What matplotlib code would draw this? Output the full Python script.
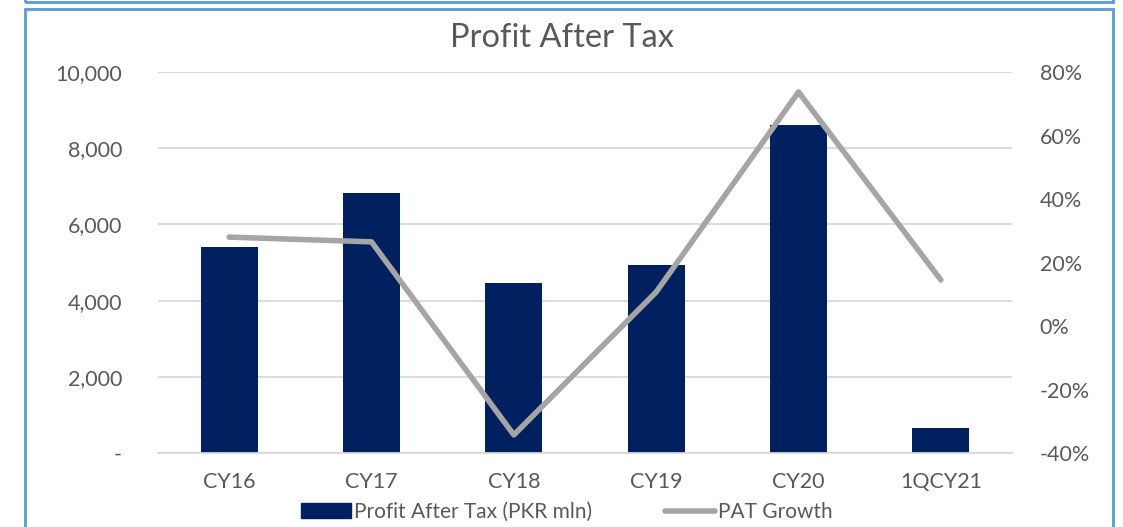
import matplotlib
matplotlib.use("Agg")
import matplotlib.pyplot as plt
from matplotlib.patches import Rectangle
from matplotlib.ticker import FuncFormatter, MultipleLocator
from matplotlib.lines import Line2D

plt.rcParams["font.family"] = ["Lato", "DejaVu Sans"]

categories = ["CY16", "CY17", "CY18", "CY19", "CY20", "1QCY21"]
pat = [5400, 6830, 4460, 4940, 8610, 660]          # PKR mln
pat_growth = [28.0, 26.5, -34.3, 10.7, 73.7, 14.5]  # %

NAVY, GRAY, TXT, GRID, EDGE = "#002060", "#A5A5A5", "#595959", "#D9D9D9", "#5B9BD5"

fig = plt.figure(figsize=(11.23, 5.27), dpi=100)
ax = fig.add_axes([158 / 1123, 1 - 453 / 527, 854 / 1123, 381 / 527])
ax2 = ax.twinx()

x = range(len(categories))
ax.bar(x, pat, width=0.4, color=NAVY, zorder=2, label="Profit After Tax (PKR mln)")
ax2.plot(x, pat_growth, color=GRAY, lw=4, solid_capstyle="round", zorder=3, label="PAT Growth")

ax.set_xlim(-0.5, len(categories) - 0.5)
ax.set_ylim(0, 10000)
ax.yaxis.set_major_locator(MultipleLocator(2000))
ax.yaxis.set_major_formatter(FuncFormatter(lambda v, p: "-" if v == 0 else f"{v:,.0f}"))
ax2.set_ylim(-40, 80)
ax2.yaxis.set_major_locator(MultipleLocator(20))
ax2.yaxis.set_major_formatter(FuncFormatter(lambda v, p: f"{v:.0f}%"))

ax.set_xticks(list(x))
ax.set_xticklabels(categories)
ax.grid(axis="y", color=GRID, lw=1.3, zorder=0)
ax.set_axisbelow(True)
for a in (ax, ax2):
    for s in a.spines.values():
        s.set_visible(False)
    a.tick_params(length=0, labelsize=15.5, labelcolor=TXT)
ax.tick_params(axis="y", pad=26)
ax2.tick_params(axis="y", pad=20)
ax.tick_params(axis="x", pad=14)
ax.spines["bottom"].set_visible(True)
ax.spines["bottom"].set_color(GRID)
ax.spines["bottom"].set_linewidth(1.3)

fig.text(0.5, 1 - 38 / 527, "Profit After Tax", ha="center", va="center", fontsize=23.5, color=TXT)

handles = [Rectangle((0, 0), 1, 1, color=NAVY),
           Line2D([0], [0], color=GRAY, lw=4, solid_capstyle="round")]
fig.legend(handles, ["Profit After Tax (PKR mln)", "PAT Growth"], loc="center",
           bbox_to_anchor=(0.505, 1 - 512 / 527), ncol=2, frameon=False, fontsize=15,
           labelcolor=TXT, handlelength=2.4, handletextpad=0.15, columnspacing=3.5)

# chart borders (Excel-style boxes)
fig.patches.append(Rectangle((25 / 1123, -0.05), 1088 / 1123, 1.05 - 9 / 527, transform=fig.transFigure,
                             fill=False, edgecolor=EDGE, lw=2, figure=fig))
fig.patches.append(Rectangle((25 / 1123, 1 - 2 / 527), 1088 / 1123, 0.1, transform=fig.transFigure,
                             fill=False, edgecolor=EDGE, lw=2, figure=fig))

fig.savefig("out.png", dpi=100)
